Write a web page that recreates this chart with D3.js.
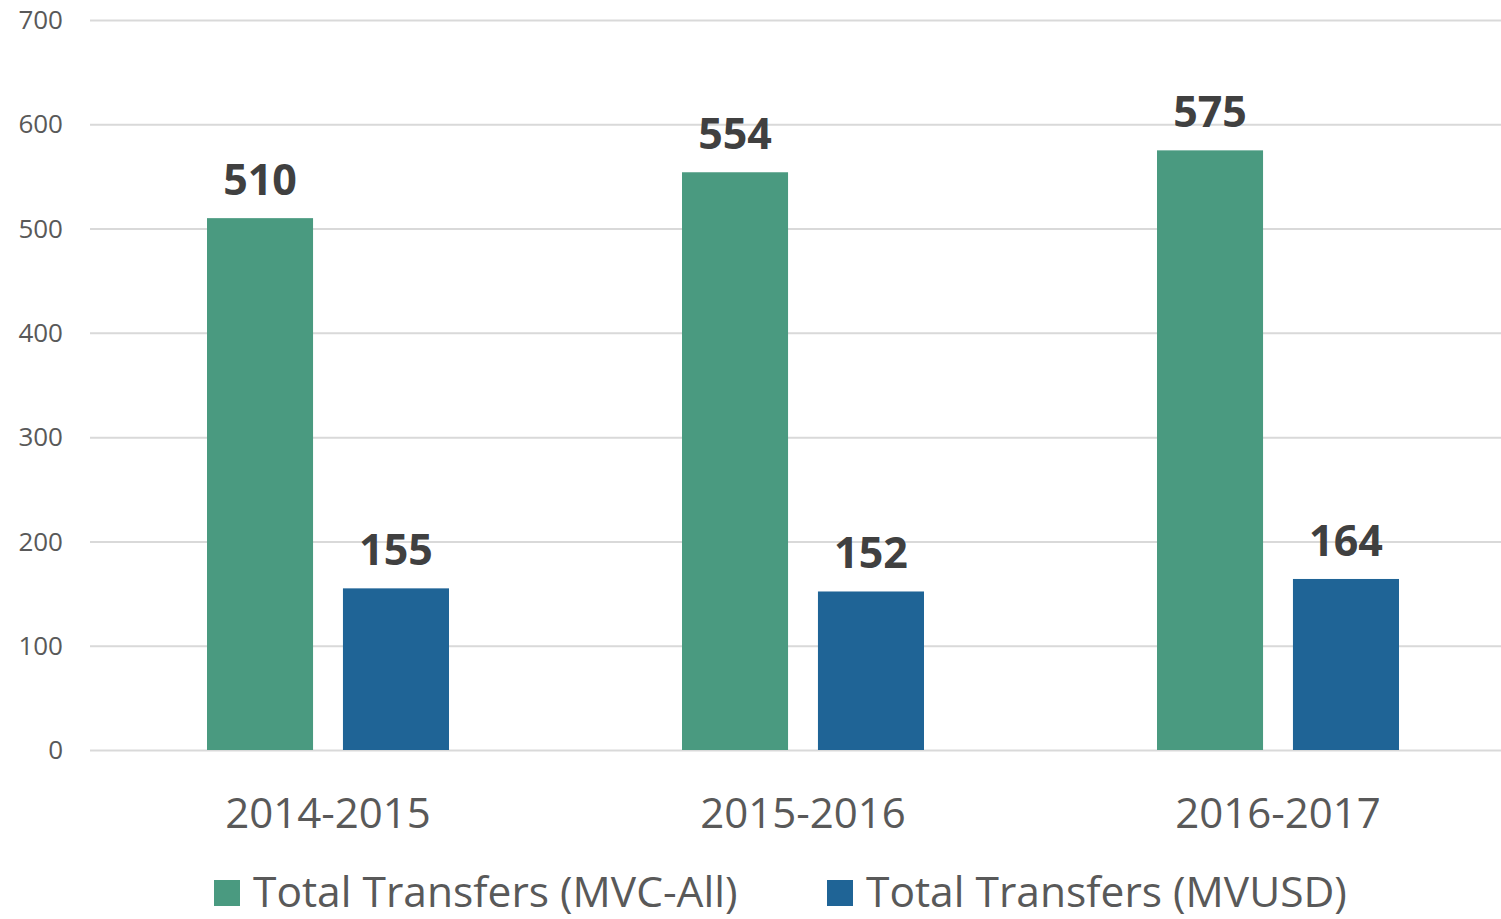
<!DOCTYPE html>
<meta charset="utf-8">
<style>
body { margin: 0; background: #fff; font-family: "Open Sans", sans-serif; }
.grid line { stroke: #d9d9d9; stroke-width: 2; }
.grid path { display: none; }
.cat { fill: #595959; font-size: 42px; text-anchor: middle; }
.val { fill: #404040; font-size: 43px; font-weight: bold; text-anchor: middle; }
.legend text { fill: #595959; font-size: 42.5px; }
</style>
<body>
<script src="https://d3js.org/d3.v7.min.js"></script>
<script>
var categories = ["2014-2015", "2015-2016", "2016-2017"];
var seriesNames = ["Total Transfers (MVC-All)", "Total Transfers (MVUSD)"];
var mvcAll = [510, 554, 575];
var mvusd = [155, 152, 164];
var yTicks = [0, 100, 200, 300, 400, 500, 600, 700];
var colors = ["#4a9a80", "#1f6496"];

var W = 1501, H = 919;
var svg = d3.select("body").append("svg").attr("width", W).attr("height", H);

var data = categories.map(function(c, i) {
  return {cat: c, values: [mvcAll[i], mvusd[i]]};
});

var x0 = d3.scaleBand().domain(categories).range([90.5, 1515.5]);
var x1 = d3.scaleBand().domain(d3.range(seriesNames.length))
    .range([116.5, 358.5]).paddingInner(0.22);
var y = d3.scaleLinear().domain([0, 700]).range([750, 20]);

// gridlines
svg.append("g")
    .attr("class", "grid")
    .attr("transform", "translate(90,0)")
    .call(d3.axisLeft(y).tickValues(yTicks).tickSize(-1411).tickFormat(""));

// y labels
svg.append("g").selectAll("text")
    .data(yTicks)
  .enter().append("text")
    .attr("x", 63)
    .attr("y", function(d) { return y(d); })
    .attr("dy", "0.35em")
    .style("text-anchor", "end")
    .style("fill", "#595959")
    .style("font-size", "26px")
    .text(function(d) { return d; });

var group = svg.selectAll(".cat-g")
    .data(data)
  .enter().append("g")
    .attr("class", "cat-g")
    .attr("transform", function(d) { return "translate(" + x0(d.cat) + ",0)"; });

group.selectAll("rect")
    .data(function(d) { return d.values; })
  .enter().append("rect")
    .attr("x", function(d, i) { return x1(i); })
    .attr("width", x1.bandwidth())
    .attr("y", function(d) { return y(d); })
    .attr("height", function(d) { return y(0) - y(d); })
    .style("fill", function(d, i) { return colors[i]; });

group.selectAll(".val")
    .data(function(d) { return d.values; })
  .enter().append("text")
    .attr("class", "val")
    .attr("x", function(d, i) { return x1(i) + x1.bandwidth() / 2; })
    .attr("y", function(d) { return y(d) - 23; })
    .text(function(d) { return d; });

// category labels
svg.append("g").selectAll("text")
    .data(categories)
  .enter().append("text")
    .attr("class", "cat")
    .attr("x", function(d) { return x0(d) + x0.bandwidth() / 2; })
    .attr("y", 828)
    .text(function(d) { return d; });

// legend
var legendX = [214, 827];
var legend = svg.selectAll(".legend")
    .data(seriesNames)
  .enter().append("g")
    .attr("class", "legend")
    .attr("transform", function(d, i) { return "translate(" + legendX[i] + ",880)"; });

legend.append("rect")
    .attr("width", 26)
    .attr("height", 26)
    .style("fill", function(d, i) { return colors[i]; });

legend.append("text")
    .attr("x", 39)
    .attr("y", 27)
    .text(function(d) { return d; });
</script>
